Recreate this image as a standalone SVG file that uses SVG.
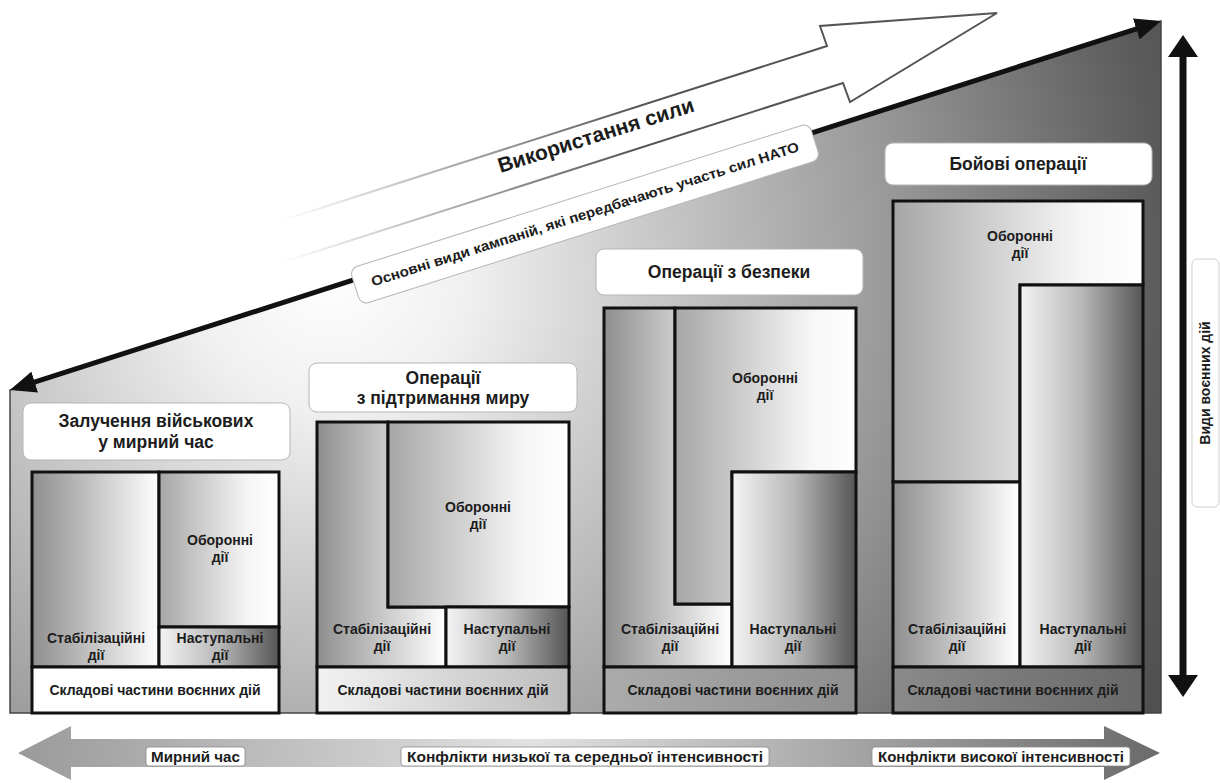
<svg xmlns="http://www.w3.org/2000/svg" width="1220" height="783" viewBox="0 0 1220 783">
<defs>
<style>
text{font-family:"Liberation Sans",Arial,sans-serif;font-weight:bold;fill:#1c1c1c}
.title{font-size:17.5px;text-anchor:middle}
.lbl{font-size:14px;text-anchor:middle}
.blbl{font-size:15px;text-anchor:middle}
.cell{stroke:#111;stroke-width:3;stroke-linejoin:miter}
.tbox{fill:#fff;stroke:#b5b5b5;stroke-width:1}
.bbox{fill:#fff;stroke:#8a8a8a;stroke-width:0.8}
</style>
<radialGradient id="bg" gradientUnits="userSpaceOnUse" cx="330" cy="270" r="930">
<stop offset="0" stop-color="#ffffff"/>
<stop offset="0.15" stop-color="#f0f0f0"/>
<stop offset="0.35" stop-color="#c8c8c8"/>
<stop offset="0.6" stop-color="#9a9a9a"/>
<stop offset="0.9" stop-color="#5a5a5a"/>
<stop offset="1" stop-color="#505050"/>
</radialGradient>
<linearGradient id="gStab" x1="0" y1="0" x2="1" y2="0">
<stop offset="0" stop-color="#8e8e8e"/>
<stop offset="1" stop-color="#ffffff"/>
</linearGradient>
<linearGradient id="gObor" x1="0" y1="0" x2="1" y2="0">
<stop offset="0" stop-color="#a6a6a6"/>
<stop offset="0.75" stop-color="#f6f6f6"/>
<stop offset="1" stop-color="#ffffff"/>
</linearGradient>
<linearGradient id="gNast" x1="0" y1="0" x2="1" y2="0">
<stop offset="0" stop-color="#f4f4f4"/>
<stop offset="0.5" stop-color="#b8b8b8"/>
<stop offset="1" stop-color="#555555"/>
</linearGradient>
<linearGradient id="gSk2" x1="0" y1="0" x2="1" y2="0">
<stop offset="0" stop-color="#f2f2f2"/>
<stop offset="1" stop-color="#bdbdbd"/>
</linearGradient>
<linearGradient id="gSk3" x1="0" y1="0" x2="1" y2="0">
<stop offset="0" stop-color="#ababab"/>
<stop offset="1" stop-color="#8e8e8e"/>
</linearGradient>
<linearGradient id="gSk4" x1="0" y1="0" x2="1" y2="0">
<stop offset="0" stop-color="#8a8a8a"/>
<stop offset="1" stop-color="#686868"/>
</linearGradient>
<linearGradient id="gBottom" gradientUnits="userSpaceOnUse" x1="18" y1="0" x2="1160" y2="0">
<stop offset="0" stop-color="#9a9a9a"/>
<stop offset="0.45" stop-color="#e2e2e2"/>
<stop offset="1" stop-color="#6a6a6a"/>
</linearGradient>
<linearGradient id="fade" gradientUnits="userSpaceOnUse" x1="280" y1="0" x2="640" y2="0">
<stop offset="0" stop-color="#555" stop-opacity="0"/>
<stop offset="1" stop-color="#555" stop-opacity="1"/>
</linearGradient>
<marker id="ah" viewBox="0 0 26 22" markerWidth="26" markerHeight="22" refX="20" refY="11" orient="auto-start-reverse" markerUnits="userSpaceOnUse">
<path d="M0,0 L26,11 L0,22 z" fill="#111"/>
</marker>
<marker id="ah2" viewBox="0 0 22 30" markerWidth="22" markerHeight="30" refX="16" refY="15" orient="auto-start-reverse" markerUnits="userSpaceOnUse">
<path d="M0,0 L22,15 L0,30 z" fill="#111"/>
</marker>
</defs>

<rect width="1220" height="783" fill="#ffffff"/>

<!-- background wedge -->
<polygon points="10,390 1161,21 1161,713 10,713" fill="url(#bg)" stroke="#444" stroke-width="1.5"/>

<!-- outline arrow: use of force -->
<g id="force-arrow">
<path d="M280,221 L827,46 L820,26 L997,13 L850,102 L843,83 L280,263" fill="#ffffff" stroke="url(#fade)" stroke-width="2" stroke-linejoin="miter"/>
<text transform="translate(598,142) rotate(-17.6)" x="0" y="0" style="font-size:21px;text-anchor:middle">Використання сили</text>
</g>

<g id="connectors">
<path d="M15.7,388.2 L1155.3,22.8" stroke="#111" stroke-width="5" fill="none" marker-start="url(#ah)" marker-end="url(#ah)"/>
<path d="M1183,41 L1183,691" stroke="#111" stroke-width="7" fill="none" marker-start="url(#ah2)" marker-end="url(#ah2)"/>
</g>

<g id="campaigns-label">
<rect transform="translate(585,214) rotate(-17.6)" x="-241" y="-19" width="482" height="38" rx="8" class="tbox"/>
<text transform="translate(585,214) rotate(-17.6)" x="0" y="5" class="lbl" textLength="448" lengthAdjust="spacingAndGlyphs">Основні види кампаній, які передбачають участь сил НАТО</text>
</g>

<g id="vertical-label">
<rect x="1192" y="259" width="27" height="248" rx="5" fill="#fff" stroke="#d0d0d0" stroke-width="1"/>
<text transform="translate(1210,383) rotate(-90)" x="0" y="0" class="lbl">Види воєнних дій</text>
</g>

<!-- Panel 1 -->
<g id="panel-peacetime">
<rect x="23" y="403" width="267" height="57" rx="8" class="tbox"/>
<text x="156" y="427" class="title">Залучення військових</text>
<text x="156" y="448" class="title">у мирний час</text>
<rect x="32" y="472" width="127" height="195" fill="url(#gStab)" class="cell"/>
<rect x="159" y="472" width="120" height="155" fill="url(#gObor)" class="cell"/>
<rect x="159" y="627" width="120" height="40" fill="url(#gNast)" class="cell"/>
<rect x="32" y="667" width="247" height="46" fill="#ffffff" class="cell"/>
<text x="96" y="643" class="lbl">Стабілізаційні</text>
<text x="96" y="660" class="lbl">дії</text>
<text x="220" y="545" class="lbl">Оборонні</text>
<text x="220" y="562" class="lbl">дії</text>
<text x="220" y="643" class="lbl">Наступальні</text>
<text x="220" y="660" class="lbl">дії</text>
<text x="155" y="695" class="lbl">Складові частини воєнних дій</text>
</g>

<!-- Panel 2 -->
<g id="panel-peacekeeping">
<rect x="309" y="363" width="268" height="49" rx="8" class="tbox"/>
<text x="443" y="384" class="title">Операції</text>
<text x="443" y="404" class="title">з підтримання миру</text>
<path d="M317,422 H388 V607 H446 V667 H317 Z" fill="url(#gStab)" class="cell"/>
<rect x="388" y="422" width="181" height="185" fill="url(#gObor)" class="cell"/>
<rect x="446" y="607" width="123" height="60" fill="url(#gNast)" class="cell"/>
<rect x="317" y="667" width="252" height="46" fill="url(#gSk2)" class="cell"/>
<text x="478" y="512" class="lbl">Оборонні</text>
<text x="478" y="529" class="lbl">дії</text>
<text x="382" y="634" class="lbl">Стабілізаційні</text>
<text x="382" y="651" class="lbl">дії</text>
<text x="507" y="634" class="lbl">Наступальні</text>
<text x="507" y="651" class="lbl">дії</text>
<text x="443" y="695" class="lbl">Складові частини воєнних дій</text>
</g>

<!-- Panel 3 -->
<g id="panel-security">
<rect x="596" y="249" width="267" height="46" rx="8" class="tbox"/>
<text x="729" y="278" class="title">Операції з безпеки</text>
<path d="M604,308 H675 V604 H732 V667 H604 Z" fill="url(#gStab)" class="cell"/>
<path d="M675,308 H856 V472 H732 V604 H675 Z" fill="url(#gObor)" class="cell"/>
<rect x="732" y="472" width="124" height="195" fill="url(#gNast)" class="cell"/>
<rect x="604" y="667" width="252" height="46" fill="url(#gSk3)" class="cell"/>
<text x="765" y="383" class="lbl">Оборонні</text>
<text x="765" y="400" class="lbl">дії</text>
<text x="670" y="634" class="lbl">Стабілізаційні</text>
<text x="670" y="651" class="lbl">дії</text>
<text x="793" y="634" class="lbl">Наступальні</text>
<text x="793" y="651" class="lbl">дії</text>
<text x="733" y="695" class="lbl">Складові частини воєнних дій</text>
</g>

<!-- Panel 4 -->
<g id="panel-combat">
<rect x="885" y="143" width="267" height="42" rx="8" class="tbox"/>
<text x="1018" y="170" class="title">Бойові операції</text>
<path d="M893,201 H1143 V285 H1020 V482 H893 Z" fill="url(#gObor)" class="cell"/>
<rect x="893" y="482" width="127" height="185" fill="url(#gStab)" class="cell"/>
<rect x="1020" y="285" width="123" height="382" fill="url(#gNast)" class="cell"/>
<rect x="893" y="667" width="250" height="46" fill="url(#gSk4)" class="cell"/>
<text x="1020" y="241" class="lbl">Оборонні</text>
<text x="1020" y="258" class="lbl">дії</text>
<text x="957" y="634" class="lbl">Стабілізаційні</text>
<text x="957" y="651" class="lbl">дії</text>
<text x="1083" y="634" class="lbl">Наступальні</text>
<text x="1083" y="651" class="lbl">дії</text>
<text x="1013" y="695" class="lbl">Складові частини воєнних дій</text>
</g>

<!-- bottom intensity arrow -->
<g id="intensity-arrow">
<polygon points="18,753 71,726 71,739 1104,739 1104,726 1160,753 1104,780 1104,767 71,767 71,780" fill="url(#gBottom)"/>
<rect x="146" y="747" width="99" height="19" rx="3" class="bbox"/>
<text x="195.5" y="762" class="blbl" textLength="89" lengthAdjust="spacingAndGlyphs">Мирний час</text>
<rect x="401" y="747" width="368" height="19" rx="3" class="bbox"/>
<text x="585" y="762" class="blbl" textLength="356" lengthAdjust="spacingAndGlyphs">Конфлікти низької та середньої інтенсивності</text>
<rect x="872" y="747" width="258" height="19" rx="3" class="bbox"/>
<text x="1001" y="762" class="blbl" textLength="246" lengthAdjust="spacingAndGlyphs">Конфлікти високої інтенсивності</text>
</g>
</svg>
